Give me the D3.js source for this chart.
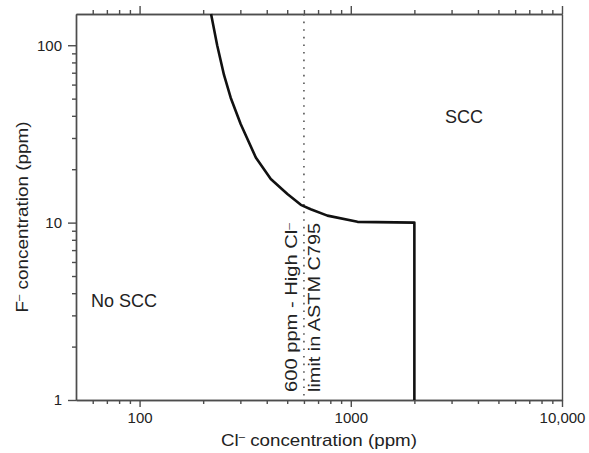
<!DOCTYPE html>
<html>
<head>
<meta charset="utf-8">
<script src="https://cdn.jsdelivr.net/npm/d3@7"></script>
<style>
  body { margin: 0; background: #fff; }
  svg text { font-family: "Liberation Sans", Arial, Helvetica, sans-serif; fill: #222; }
</style>
</head>
<body>
<script>
(function () {
  // boundary between SCC / no SCC
  const clPpm = [218, 233, 251, 270, 301, 355, 418, 501, 580, 646, 775, 1076, 2000, 2000];
  const fPpm = [150, 100, 68, 50.6, 36, 23.3, 17.6, 14.5, 12.6, 11.9, 10.95, 10.1, 10, 1];

  const clLimit = 600;

  const xMajor = [100, 1000, 10000];
  const xMajorLabels = ['100', '1000', '10,000'];
  const xMinor = [60, 70, 80, 90, 200, 300, 400, 500, 600, 700, 800, 900,
    2000, 3000, 4000, 5000, 6000, 7000, 8000, 9000];
  const yMajor = [1, 10, 100];
  const yMajorLabels = ['1', '10', '100'];
  const yMinor = [2, 3, 4, 5, 6, 7, 8, 9, 20, 30, 40, 50, 60, 70, 80, 90];

  const width = 589;
  const height = 453;
  const margin = { top: 14, right: 27, bottom: 53, left: 76 };

  const x = d3.scaleLog()
    .domain([50, 10000])
    .range([margin.left, width - margin.right]);

  const y = d3.scaleLog()
    .domain([1, 150])
    .range([height - margin.bottom, margin.top]);

  const svg = d3.select('body').append('svg')
    .attr('width', width)
    .attr('height', height);

  const axisColor = '#4d4d4d';

  function styleAxis(g) {
    g.selectAll('path, line').attr('stroke', axisColor).attr('stroke-width', 1.4);
    g.selectAll('text').attr('fill', '#222').style('font-size', '15px');
  }

  // bottom
  svg.append('g')
    .attr('transform', `translate(0,${y.range()[0]})`)
    .call(d3.axisBottom(x).tickValues(xMinor).tickSize(4).tickSizeOuter(0).tickFormat(''))
    .call(styleAxis);
  svg.append('g')
    .attr('transform', `translate(0,${y.range()[0]})`)
    .call(d3.axisBottom(x).tickValues(xMajor).tickSize(7).tickSizeOuter(0).tickPadding(5)
      .tickFormat((d, i) => xMajorLabels[i]))
    .call(styleAxis);

  // top
  svg.append('g')
    .attr('transform', `translate(0,${y.range()[1]})`)
    .call(d3.axisTop(x).tickValues(xMinor).tickSize(4).tickSizeOuter(0).tickFormat(''))
    .call(styleAxis);
  svg.append('g')
    .attr('transform', `translate(0,${y.range()[1]})`)
    .call(d3.axisTop(x).tickValues(xMajor).tickSize(8).tickSizeOuter(0).tickFormat(''))
    .call(styleAxis);

  // left
  svg.append('g')
    .attr('transform', `translate(${x.range()[0]},0)`)
    .call(d3.axisLeft(y).tickValues(yMinor).tickSize(4).tickSizeOuter(0).tickFormat(''))
    .call(styleAxis);
  svg.append('g')
    .attr('transform', `translate(${x.range()[0]},0)`)
    .call(d3.axisLeft(y).tickValues(yMajor).tickSize(8).tickSizeOuter(0).tickPadding(6)
      .tickFormat((d, i) => yMajorLabels[i]))
    .call(styleAxis);

  // right, just the line
  svg.append('g')
    .attr('transform', `translate(${x.range()[1]},0)`)
    .call(d3.axisRight(y).tickValues([]).tickSizeOuter(0))
    .call(styleAxis);

  // 600 ppm limit
  svg.append('line')
    .attr('x1', x(clLimit)).attr('x2', x(clLimit))
    .attr('y1', y.range()[1]).attr('y2', y.range()[0])
    .attr('stroke', '#555')
    .attr('stroke-width', 1.6)
    .attr('stroke-dasharray', '1.6,6');

  // boundary
  const line = d3.line()
    .x((d, i) => x(clPpm[i]))
    .y((d, i) => y(fPpm[i]));

  svg.append('path')
    .attr('d', line(clPpm))
    .attr('fill', 'none')
    .attr('stroke', '#111')
    .attr('stroke-width', 2.6)
    .attr('stroke-linejoin', 'round');

  // text helper for "X⁻" superscripts
  function withMinus(sel, before, after) {
    sel.append('tspan').text(before);
    sel.append('tspan').attr('dy', '-0.55em').style('font-size', '0.6em').text('\u2013');
    sel.append('tspan').attr('dy', '0.33em').text(after);
  }

  // region labels
  svg.append('text')
    .attr('x', 124).attr('y', 307)
    .attr('text-anchor', 'middle')
    .style('font-size', '18px')
    .text('No SCC');

  svg.append('text')
    .attr('x', 464).attr('y', 123)
    .attr('text-anchor', 'middle')
    .style('font-size', '18px')
    .text('SCC');

  // limit annotation
  const note1 = svg.append('text')
    .attr('transform', 'translate(297,392) rotate(-90)')
    .attr('textLength', 169)
    .attr('lengthAdjust', 'spacingAndGlyphs')
    .style('font-size', '16px');
  withMinus(note1, '600 ppm - High Cl', '');

  svg.append('text')
    .attr('transform', 'translate(320,392) rotate(-90)')
    .attr('textLength', 169)
    .attr('lengthAdjust', 'spacingAndGlyphs')
    .style('font-size', '16px')
    .text('limit in ASTM C795');

  // axis titles
  const xTitle = svg.append('text')
    .attr('x', 319).attr('y', 446)
    .attr('text-anchor', 'middle')
    .attr('textLength', 196)
    .attr('lengthAdjust', 'spacingAndGlyphs')
    .style('font-size', '17px');
  withMinus(xTitle, 'Cl', ' concentration (ppm)');

  const yTitle = svg.append('text')
    .attr('transform', 'translate(28,217) rotate(-90)')
    .attr('text-anchor', 'middle')
    .attr('textLength', 191)
    .attr('lengthAdjust', 'spacingAndGlyphs')
    .style('font-size', '17px');
  withMinus(yTitle, 'F', ' concentration (ppm)');
})();
</script>
</body>
</html>
